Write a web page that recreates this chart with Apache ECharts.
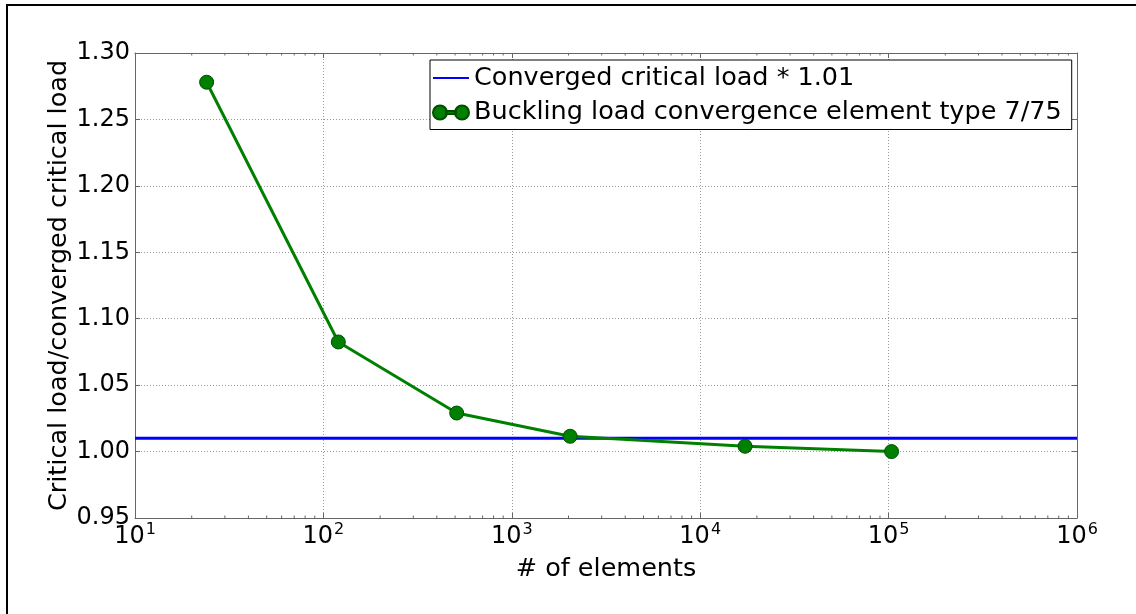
<!DOCTYPE html>
<html>
<head>
<meta charset="utf-8">
<script src="https://cdn.jsdelivr.net/npm/echarts@6/dist/echarts.min.js"></script>
<style>
  html, body { margin: 0; padding: 0; background: #fff; }
  #chart { width: 1136px; height: 614px; }
</style>
</head>
<body>
<div id="chart"></div>
<script>
// Mesh sizes (number of elements) and normalised critical loads
const elementCounts = [24, 120, 510, 2040, 17300, 103700];
const loadRatios = [1.278, 1.0825, 1.029, 1.0115, 1.004, 1.000];
// Reference level: converged critical load * 1.01
const referenceRatio = 1.01;
// Axis ranges
const xRange = [10, 1e6];
const yRange = [0.95, 1.30];
const yStep = 0.05;

const FONT = 'DejaVu Sans';
const frameColor = '#666';
const labelSize = 25.5;
const tickSize = 24;

// Legend glyph for the marker line: two dots joined by a short bar
const dotPairIcon = 'path://M0,7a7,7 0 1,0 14,0a7,7 0 1,0 -14,0z M22,7a7,7 0 1,0 14,0a7,7 0 1,0 -14,0z M13,5.5h10v3h-10z';

// Log-scale minor tick positions (2..9 times each decade)
const minorTicks = [];
for (let d = 1; d < 6; d++) {
  for (let m = 2; m <= 9; m++) minorTicks.push([m * Math.pow(10, d), yRange[0]]);
}

const chart = echarts.init(document.getElementById('chart'), null, { renderer: 'canvas' });

const tickStyle = { show: true, inside: true, length: 5, lineStyle: { color: frameColor, width: 1 } };
const gridLine = { show: true, lineStyle: { color: '#999', width: 1, type: [1, 2] } };

chart.setOption({
  animation: false,
  backgroundColor: '#fff',
  textStyle: { fontFamily: FONT },
  graphic: [{
    type: 'rect', x: 7, y: 5, silent: true,
    shape: { x: 0, y: 0, width: 1400, height: 900 },
    style: { fill: null, stroke: '#000', lineWidth: 2 }
  }],
  grid: { left: 135, top: 53, right: 59, bottom: 96, containLabel: false },
  legend: {
    orient: 'vertical',
    left: 430, top: 60,
    data: [
      { name: 'Converged critical load * 1.01', itemStyle: { color: 'transparent', borderColor: 'transparent', borderWidth: 0 } },
      { name: 'Buckling load convergence element type 7/75', icon: dotPairIcon }
    ],
    backgroundColor: '#fff',
    borderColor: '#000', borderWidth: 1, borderRadius: 0,
    padding: [5, 10, 4, 2],
    itemWidth: 36, itemHeight: 16, itemGap: 8.5, itemTextGap: 7,
    textStyle: { fontFamily: FONT, fontSize: labelSize, color: '#000' }
  },
  xAxis: [{
    type: 'log', logBase: 10, min: xRange[0], max: xRange[1],
    name: '# of elements', nameLocation: 'middle', nameGap: 38,
    nameTextStyle: { fontFamily: FONT, fontSize: labelSize, color: '#000' },
    axisLine: { show: true, onZero: false, lineStyle: { color: frameColor, width: 1 } },
    axisTick: tickStyle,
    minorTick: { show: false },
    splitLine: gridLine,
    axisLabel: {
      margin: 4,
      formatter: v => '{b|10}{e|' + Math.round(Math.log10(v)) + '}',
      rich: {
        b: { fontFamily: FONT, fontSize: tickSize, color: '#000' },
        e: { fontFamily: FONT, fontSize: 16, color: '#000', verticalAlign: 'bottom', padding: [0, 0, 13, 1] }
      }
    }
  }, {
    type: 'log', logBase: 10, min: xRange[0], max: xRange[1], position: 'top',
    axisLine: { show: true, onZero: false, lineStyle: { color: frameColor, width: 1 } },
    axisTick: tickStyle, axisLabel: { show: false }, splitLine: { show: false }
  }],
  yAxis: [{
    type: 'value', min: yRange[0], max: yRange[1], interval: yStep,
    name: 'Critical load/converged critical load', nameLocation: 'middle', nameGap: 63,
    nameMoveOverlap: false,
    nameTextStyle: { fontFamily: FONT, fontSize: labelSize, color: '#000' },
    axisLine: { show: true, onZero: false, lineStyle: { color: frameColor, width: 1 } },
    axisTick: tickStyle,
    splitLine: gridLine,
    axisLabel: { margin: 5, fontFamily: FONT, fontSize: tickSize, color: '#000', formatter: v => v.toFixed(2) }
  }, {
    type: 'value', min: yRange[0], max: yRange[1], interval: yStep, position: 'right',
    axisLine: { show: true, onZero: false, lineStyle: { color: frameColor, width: 1 } },
    axisTick: tickStyle, axisLabel: { show: false }, splitLine: { show: false }
  }],
  series: [{
    name: 'Converged critical load * 1.01',
    type: 'line',
    data: [[xRange[0], referenceRatio], [xRange[1], referenceRatio]],
    symbol: 'none',
    lineStyle: { color: '#0000ff', width: 3 },
    itemStyle: { color: '#0000ff' },
    z: 2
  }, {
    name: 'Buckling load convergence element type 7/75',
    type: 'line',
    data: elementCounts.map((n, i) => [n, loadRatios[i]]),
    symbol: 'circle', symbolSize: 14,
    lineStyle: { color: '#008000', width: 3 },
    itemStyle: { color: '#008000', borderColor: '#004d00', borderWidth: 1 },
    z: 3
  }, {
    type: 'custom',
    silent: true,
    data: minorTicks,
    encode: { x: 0, y: 1 },
    renderItem: (params, api) => {
      const v = api.value(0);
      const b = api.coord([v, yRange[0]]);
      const t = api.coord([v, yRange[1]]);
      const st = { stroke: frameColor, lineWidth: 1 };
      return {
        type: 'group',
        children: [
          { type: 'line', shape: { x1: b[0], y1: b[1], x2: b[0], y2: b[1] - 2.5 }, style: st },
          { type: 'line', shape: { x1: t[0], y1: t[1], x2: t[0], y2: t[1] + 2.5 }, style: st }
        ]
      };
    },
    z: 1
  }]
});
</script>
</body>
</html>
